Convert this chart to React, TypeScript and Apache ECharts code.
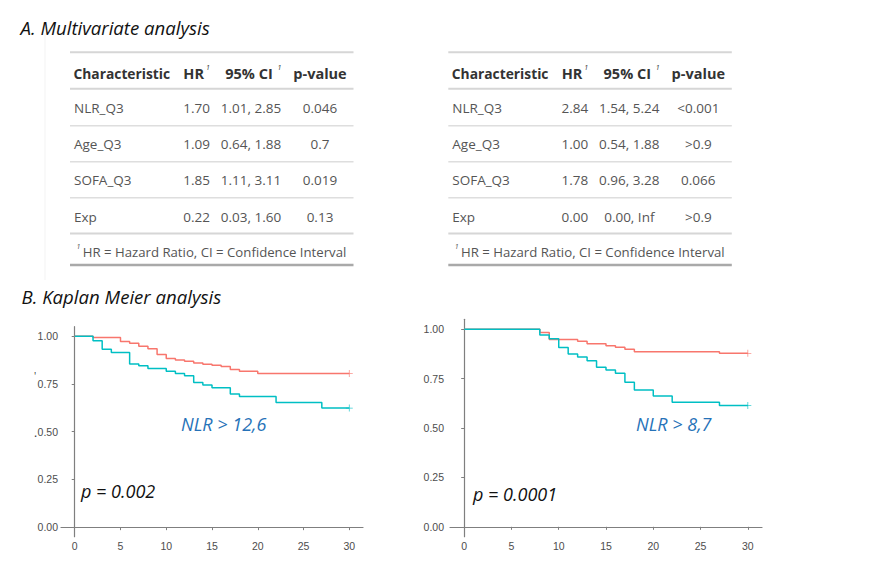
import React, { useEffect, useRef } from "react";
import * as echarts from "echarts";

// table rows (same characteristics in both models)
const characteristics = ["NLR_Q3", "Age_Q3", "SOFA_Q3", "Exp"];
const hrA = ["1.70", "1.09", "1.85", "0.22"];
const ciA = ["1.01, 2.85", "0.64, 1.88", "1.11, 3.11", "0.03, 1.60"];
const pA = ["0.046", "0.7", "0.019", "0.13"];
const hrB = ["2.84", "1.00", "1.78", "0.00"];
const ciB = ["1.54, 5.24", "0.54, 1.88", "0.96, 3.28", "0.00, Inf"];
const pB = ["<0.001", ">0.9", "0.066", ">0.9"];

// Kaplan-Meier steps, left panel (NLR > 12,6)
const timeLowA = [0, 2, 5, 6, 7, 8, 9, 10, 11, 12, 13, 14, 15, 16, 17, 18, 20, 30];
const survLowA = [1, 0.993, 0.972, 0.963, 0.948, 0.935, 0.904, 0.883, 0.876, 0.869, 0.86, 0.853, 0.848, 0.842, 0.826, 0.816, 0.805, 0.805];
const timeHighA = [0, 2, 3, 4, 6, 7, 8, 10, 11, 12, 13, 14, 15, 17, 18, 22, 27, 30];
const survHighA = [1, 0.977, 0.932, 0.915, 0.855, 0.845, 0.831, 0.817, 0.805, 0.793, 0.758, 0.744, 0.73, 0.697, 0.684, 0.653, 0.624, 0.624];

// right panel (NLR > 8,7)
const timeLowB = [0, 8, 9, 12, 13, 15, 16, 17, 18, 27, 30];
const survLowB = [1, 0.983, 0.948, 0.939, 0.926, 0.916, 0.909, 0.899, 0.886, 0.878, 0.878];
const timeHighB = [0, 8, 9, 10, 11, 12, 13, 14, 15, 16, 17, 18, 20, 22, 27, 30];
const survHighB = [1, 0.97, 0.951, 0.907, 0.874, 0.859, 0.84, 0.808, 0.793, 0.777, 0.731, 0.692, 0.662, 0.63, 0.614, 0.614];

const xTicks = [0, 5, 10, 15, 20, 25, 30];
const yTicks = [0, 0.25, 0.5, 0.75, 1];

const RED = "#F8766D";
const TEAL = "#00BFC4";
const AXIS = "#7f7f7f";
const PLUS = "path://M4,0h1v9h-1z M0,4h9v1h-9z";

const zip = (t: number[], s: number[]) => t.map((v, i) => [v, s[i]]);

function txt(text: string, x: number, y: number, o: any = {}) {
  return {
    type: "text",
    x,
    y,
    silent: true,
    style: {
      text,
      fill: o.fill ?? "#555",
      fontSize: o.size ?? 13.5,
      fontFamily: o.family ?? "Open Sans",
      fontWeight: o.weight ?? "normal",
      fontStyle: o.style ?? "normal",
      textAlign: o.align ?? "left",
      textVerticalAlign: "middle",
    },
  };
}

function hline(x: number, y: number, w: number, color: string, width: number) {
  return { type: "line", silent: true, shape: { x1: x, y1: y, x2: x + w, y2: y }, style: { stroke: color, lineWidth: width } };
}

function table(x0: number, hr: string[], ci: string[], p: string[]) {
  const w = 283.5;
  const els: any[] = [hline(x0, 52.3, w, "#d6d6d6", 2)];
  const head = { fill: "#333", weight: "bold", size: 14.5 };
  els.push(txt("Characteristic", x0 + 3.5, 73.3, { ...head, size: 13.8 }));
  els.push(txt("HR", x0 + 134, 73.3, { ...head, align: "right" }));
  els.push(txt("1", x0 + 136, 67, { style: "italic", size: 7, fill: "#333" }));
  els.push(txt("95% CI", x0 + 179, 73.3, { ...head, align: "center" }));
  els.push(txt("1", x0 + 207.5, 67, { style: "italic", size: 7, fill: "#333" }));
  els.push(txt("p-value", x0 + 250, 73.3, { ...head, align: "center" }));
  els.push(hline(x0, 88.7, w, "#d6d6d6", 2));
  const rowY = [108.3, 144.3, 180.3, 216.5];
  const lineY = [125.7, 161.7, 197.7, 233.5];
  characteristics.forEach((c, i) => {
    els.push(txt(c, x0 + 4, rowY[i]));
    els.push(txt(hr[i], x0 + 140, rowY[i], { align: "right" }));
    els.push(txt(ci[i], x0 + 181, rowY[i], { align: "center" }));
    els.push(txt(p[i], x0 + 250, rowY[i], { align: "center" }));
    if (i < 3) els.push(hline(x0, lineY[i], w, "#dedede", 1.5));
  });
  els.push(hline(x0, 233.5, w, "#d6d6d6", 2));
  els.push(txt("1", x0 + 6.5, 246, { style: "italic", size: 7 }));
  els.push(txt("HR = Hazard Ratio, CI = Confidence Interval", x0 + 12.7, 251.7, { size: 13.2 }));
  els.push(hline(x0, 265, w, "#a9a9a9", 2.5));
  return els;
}

function xAxisOf(gridIndex: number) {
  return {
    type: "value",
    gridIndex,
    min: -1.5,
    max: 31.5,
    axisLine: { lineStyle: { color: AXIS, width: 1.2 } },
    axisTick: { show: true, length: 3, customValues: xTicks, lineStyle: { color: AXIS } },
    axisLabel: { customValues: xTicks, color: "#4d4d4d", fontSize: 10.5, fontFamily: "Liberation Sans", margin: 4 },
    splitLine: { show: false },
  };
}

function yAxisOf(gridIndex: number, margin: number) {
  return {
    type: "value",
    gridIndex,
    min: -0.05,
    max: 1.05,
    axisLine: { show: true, lineStyle: { color: AXIS, width: 1.2 } },
    axisTick: { show: true, length: 3, customValues: yTicks, lineStyle: { color: AXIS } },
    axisLabel: {
      customValues: yTicks,
      color: "#4d4d4d",
      fontSize: 10.5,
      fontFamily: "Liberation Sans",
      margin,
      formatter: (v: number) => v.toFixed(2),
    },
    splitLine: { show: false },
  };
}

function km(idx: number, t: number[], s: number[], color: string) {
  return [
    {
      type: "line",
      xAxisIndex: idx,
      yAxisIndex: idx,
      step: "end",
      data: zip(t, s),
      symbol: "none",
      lineStyle: { color, width: 1.5 },
      silent: true,
    },
    {
      type: "scatter",
      xAxisIndex: idx,
      yAxisIndex: idx,
      data: [[t[t.length - 1], s[s.length - 1]]],
      symbol: PLUS,
      symbolSize: 7,
      itemStyle: { color },
      silent: true,
    },
  ];
}

export default function App() {
  const ref = useRef<HTMLDivElement | null>(null);

  useEffect(() => {
    const chart = echarts.init(ref.current!, undefined, { renderer: "svg" });
    const title = { family: "Open Sans", style: "italic", size: 18.6, fill: "#111" };
    const note = { family: "Open Sans", style: "italic", size: 18 };
    chart.setOption({
      animation: false,
      backgroundColor: "#fff",
      grid: [
        { left: 61, top: 326.7, width: 302, height: 210 },
        { left: 450, top: 319.3, width: 312, height: 217.4 },
      ],
      xAxis: [xAxisOf(0), xAxisOf(1)],
      yAxis: [yAxisOf(0, 3), yAxisOf(1, 6)],
      series: [
        ...km(0, timeLowA, survLowA, RED),
        ...km(0, timeHighA, survHighA, TEAL),
        ...km(1, timeLowB, survLowB, RED),
        ...km(1, timeHighB, survHighB, TEAL),
      ],
      graphic: [
        { type: "line", silent: true, shape: { x1: 45, y1: 33, x2: 45, y2: 280 }, style: { stroke: "#f3f3f3", lineWidth: 1 } },
        txt("A. Multivariate analysis", 20.5, 27, title),
        ...table(70, hrA, ciA, pA),
        ...table(448.3, hrB, ciB, pB),
        txt("B. Kaplan Meier analysis", 21.5, 296, title),
        txt("'", 34, 376, { size: 10, fill: "#333" }),
        txt(".", 34, 432, { size: 12, fill: "#333" }),
        txt("NLR > 12,6", 181, 424, { ...note, fill: "#2672b8" }),
        txt("p = 0.002", 81, 491, { ...note, fill: "#111" }),
        txt("NLR > 8,7", 636, 424, { ...note, fill: "#2672b8" }),
        txt("p = 0.0001", 473, 494, { ...note, fill: "#111" }),
      ],
    });
    return () => chart.dispose();
  }, []);

  return (
    <div
      ref={ref}
      style={{ position: "absolute", left: 0, top: 0, width: 881, height: 567, background: "#fff" }}
    />
  );
}
